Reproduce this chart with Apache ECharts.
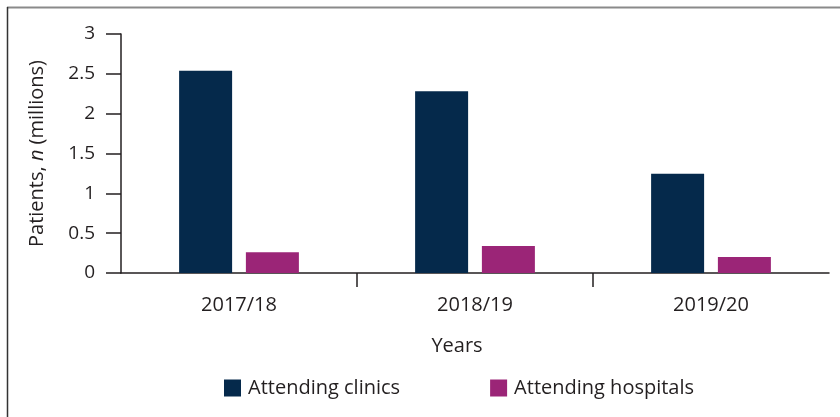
<!DOCTYPE html>
<html>
<head>
<meta charset="utf-8">
<script src="https://cdn.jsdelivr.net/npm/echarts@6/dist/echarts.min.js"></script>
<style>
  html, body { margin: 0; padding: 0; background: #fff; }
  #chart { width: 840px; height: 417px; }
</style>
</head>
<body>
<div id="chart"></div>
<script>
// data
const years = ['2017/18', '2018/19', '2019/20']
const clinics = [2.54, 2.28, 1.245]
const hospitals = [0.26, 0.34, 0.2]
const yTicks = [0, 0.5, 1, 1.5, 2, 2.5, 3]

const FONT = 'Open Sans'
const TXT = '#231f20'

const chart = echarts.init(document.getElementById('chart'))

const option = {
  animation: false,
  textStyle: { fontFamily: FONT, color: TXT },
  grid: { left: 121, right: 11, top: 34, bottom: 144 },
  legend: {
    bottom: 14,
    left: 219,
    itemWidth: 17,
    itemHeight: 17,
    itemGap: 90,
    icon: 'rect',
    textStyle: { fontFamily: FONT, fontSize: 20, color: TXT, padding: [0, 0, 0, 2] },
    data: ['Attending clinics', 'Attending hospitals']
  },
  xAxis: [
    {
      type: 'category',
      data: years,
      name: 'Years',
      nameLocation: 'middle',
      nameGap: 63,
      nameTextStyle: { fontSize: 20, color: TXT, padding: [0, 36, 0, 0] },
      axisLine: { lineStyle: { color: '#231f20', width: 1.5 } },
      axisTick: { show: false },
      axisLabel: { fontSize: 20, color: TXT, margin: 22 }
    },
    {
      // boundary ticks between the year groups
      type: 'value',
      position: 'bottom',
      min: 0,
      max: 3,
      axisLine: { show: false },
      splitLine: { show: false },
      axisLabel: { show: false },
      axisTick: {
        show: true,
        customValues: [1, 2],
        length: 14,
        lineStyle: { color: '#231f20', width: 1.5 }
      }
    }
  ],
  yAxis: {
    type: 'value',
    min: 0,
    max: 3,
    interval: 0.5,
    name: '{a|Patients, }{b|n}{a| (millions)}',
    nameLocation: 'middle',
    nameGap: 74,
    nameTextStyle: {
      rich: {
        a: { fontSize: 20, color: TXT, fontFamily: FONT },
        b: { fontSize: 20, color: TXT, fontFamily: FONT, fontStyle: 'italic' }
      }
    },
    axisLine: { show: true, lineStyle: { color: '#231f20', width: 1.5 } },
    axisTick: { show: true, inside: false, length: 15, lineStyle: { color: '#231f20', width: 1.5 } },
    splitLine: { show: false },
    axisLabel: {
      fontSize: 19,
      color: TXT,
      margin: 26,
      formatter: v => (yTicks.includes(v) ? String(v) : '')
    }
  },
  series: [
    {
      name: 'Attending clinics',
      type: 'bar',
      data: clinics,
      barWidth: 53,
      barGap: '26%',
      itemStyle: { color: '#05294b' }
    },
    {
      name: 'Attending hospitals',
      type: 'bar',
      data: hospitals,
      barWidth: 53,
      barGap: '26%',
      itemStyle: { color: '#9b2577' }
    }
  ],
  graphic: [
    { type: 'line', shape: { x1: 7, y1: 7.5, x2: 840, y2: 7.5 }, style: { stroke: '#8a8a8a', lineWidth: 2 } },
    { type: 'line', shape: { x1: 7.5, y1: 7, x2: 7.5, y2: 417 }, style: { stroke: '#333', lineWidth: 1.5 } }
  ]
}

chart.setOption(option)
window.addEventListener('resize', () => chart.resize())
</script>
</body>
</html>
